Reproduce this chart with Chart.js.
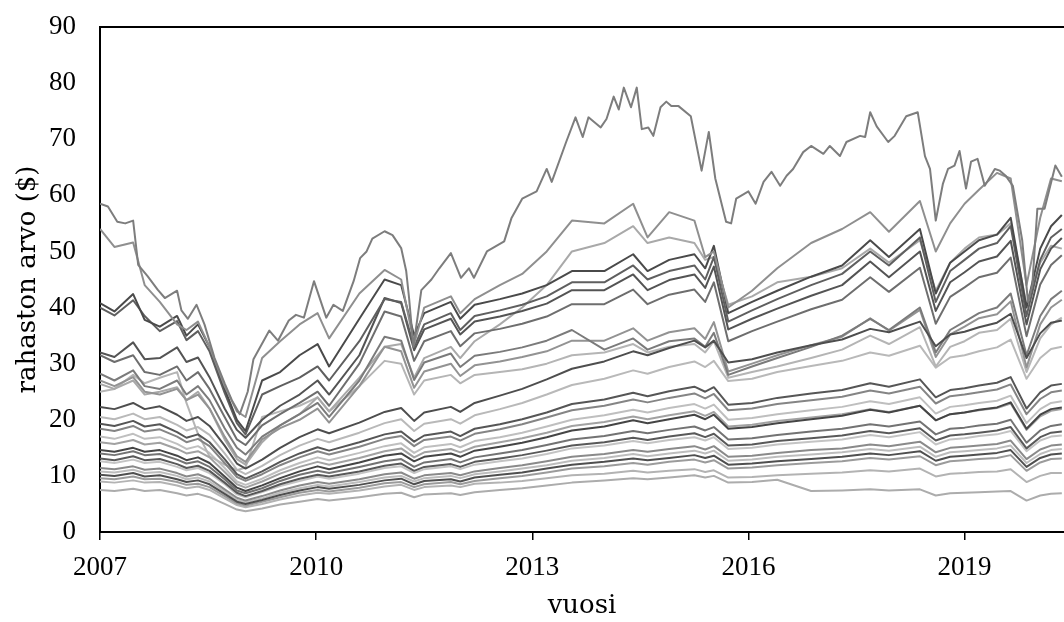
<!DOCTYPE html>
<html>
<head>
<meta charset="utf-8">
<script src="https://cdn.jsdelivr.net/npm/chart.js@4.4.1/dist/chart.umd.min.js"></script>
<style>
  html, body { margin: 0; padding: 0; background: #fff; overflow: hidden; }
  #chart { display: block; }
</style>
</head>
<body>
<canvas id="chart" width="1064" height="622"></canvas>
<script>
// axis ticks
const yearTicks = [2007, 2010, 2013, 2016, 2019];
const valueTicks = [0, 10, 20, 30, 40, 50, 60, 70, 80, 90];

// highest fund, read at its own turning points
const topDates = [2007.00, 2007.11, 2007.24, 2007.35, 2007.46, 2007.53, 2007.66, 2007.80, 2007.90, 2008.07,
    2008.13, 2008.22, 2008.34, 2008.45, 2008.59, 2008.73, 2008.83, 2008.94, 2009.05, 2009.13,
    2009.35, 2009.47, 2009.62, 2009.72, 2009.83, 2009.97, 2010.14, 2010.24, 2010.37, 2010.52,
    2010.61, 2010.70, 2010.78, 2010.95, 2011.06, 2011.18, 2011.25, 2011.29, 2011.35, 2011.46,
    2011.60, 2011.71, 2011.87, 2012.01, 2012.12, 2012.19, 2012.37, 2012.61, 2012.71, 2012.86,
    2013.06, 2013.20, 2013.27, 2013.47, 2013.60, 2013.70, 2013.78, 2013.95, 2014.03, 2014.13,
    2014.20, 2014.27, 2014.37, 2014.45, 2014.52, 2014.61, 2014.68, 2014.78, 2014.86, 2014.93,
    2015.03, 2015.20, 2015.35, 2015.45, 2015.54, 2015.69, 2015.76, 2015.83, 2016.00, 2016.10,
    2016.21, 2016.32, 2016.44, 2016.53, 2016.62, 2016.76, 2016.87, 2017.04, 2017.13, 2017.27,
    2017.36, 2017.55, 2017.62, 2017.69, 2017.78, 2017.94, 2018.03, 2018.19, 2018.35, 2018.45,
    2018.52, 2018.60, 2018.70, 2018.77, 2018.86, 2018.93, 2019.02, 2019.09, 2019.18, 2019.28,
    2019.42, 2019.49, 2019.57, 2019.67, 2019.80, 2019.88, 2019.94, 2020.01, 2020.11, 2020.26,
    2020.35];
const topFund = [58.5, 58.0, 55.3, 55.0, 55.5, 47.6, 45.6, 43.2, 41.7, 43.0,
    39.5, 38.0, 40.5, 37.0, 31.0, 26.5, 23.5, 21.0, 25.0, 30.8,
    35.9, 34.1, 37.7, 38.7, 38.2, 44.7, 38.2, 40.5, 39.4, 44.7,
    48.8, 50.0, 52.3, 53.6, 52.9, 50.6, 46.5, 41.7, 33.0, 43.1,
    45.0, 47.0, 49.7, 45.3, 47.0, 45.3, 50.0, 51.8, 55.9, 59.4,
    60.7, 64.7, 62.4, 69.5, 73.9, 70.4, 73.9, 72.1, 73.6, 77.6,
    75.3, 79.2, 75.7, 79.2, 71.8, 72.1, 70.6, 75.7, 76.7, 75.9,
    75.9, 74.1, 64.4, 71.3, 63.0, 55.3, 55.0, 59.4, 60.7, 58.5,
    62.4, 64.2, 61.7, 63.5, 64.7, 67.7, 68.8, 67.4, 68.8, 67.0,
    69.5, 70.6, 70.4, 74.8, 72.3, 69.5, 70.6, 74.1, 74.8, 67.0,
    64.7, 55.5, 62.1, 64.7, 65.3, 67.9, 61.2, 66.0, 66.5, 61.7,
    64.7, 64.4, 63.5, 61.7, 52.0, 41.0, 44.0, 57.6, 57.6, 65.3,
    63.3];

// the other funds share these dates
const dates = [2007.00, 2007.20, 2007.46, 2007.62, 2007.83, 2008.07, 2008.20, 2008.36, 2008.52, 2008.73,
    2008.90, 2009.02, 2009.25, 2009.50, 2009.77, 2010.02, 2010.18, 2010.60, 2010.95, 2011.18,
    2011.36, 2011.50, 2011.87, 2012.00, 2012.20, 2012.55, 2012.86, 2013.20, 2013.55, 2014.00,
    2014.40, 2014.60, 2014.90, 2015.25, 2015.40, 2015.52, 2015.72, 2016.05, 2016.40, 2016.87,
    2017.30, 2017.69, 2017.95, 2018.38, 2018.60, 2018.80, 2019.00, 2019.20, 2019.45, 2019.64,
    2019.86, 2020.05, 2020.20, 2020.35];

const fundB = [54.0, 50.8, 51.6, 44.0, 41.0, 37.0, 36.0, 37.5, 33.0, 26.0, 21.5, 20.5, 31.0, 34.0, 37.0, 39.0, 34.5, 42.5, 46.7, 45.0, 33.5, 40.0, 42.0, 39.0, 41.5, 44.0, 46.0, 50.0, 55.5, 55.0, 58.5, 52.5, 57.0, 55.5, 49.0, 50.0, 40.0, 43.0, 47.0, 51.5, 54.0, 57.0, 53.5, 59.0, 50.0, 55.0, 58.5, 61.0, 64.0, 63.0, 44.0, 56.0, 63.0, 62.5];
const fundC = [40.8, 39.3, 42.4, 37.8, 36.6, 38.5, 35.0, 37.0, 33.0, 25.5, 20.0, 18.0, 27.0, 28.5, 31.5, 33.5, 29.5, 38.0, 45.0, 44.0, 35.0, 39.0, 41.0, 38.0, 40.5, 41.5, 42.5, 44.0, 46.5, 46.5, 49.5, 46.5, 48.5, 49.5, 47.0, 51.0, 39.0, 41.0, 43.0, 45.5, 47.5, 52.0, 49.0, 54.0, 42.5, 48.0, 50.0, 52.0, 53.0, 56.0, 40.0, 50.5, 54.5, 56.5];
const fundD = [40.0, 38.6, 41.3, 38.5, 35.8, 37.6, 34.2, 35.8, 32.2, 24.8, 19.4, 17.4, 24.5, 26.0, 27.5, 29.5, 27.0, 34.0, 41.5, 41.0, 33.0, 37.0, 39.0, 36.0, 38.5, 39.5, 40.5, 42.0, 44.5, 44.5, 47.5, 45.0, 46.5, 47.5, 45.0, 49.0, 37.5, 39.5, 41.5, 44.0, 46.0, 50.0, 47.5, 52.5, 41.0, 46.5, 48.5, 50.5, 51.5, 54.5, 38.5, 48.5, 52.5, 54.0];
const fundE = [32.0, 31.2, 33.8, 30.8, 31.0, 32.9, 30.3, 31.1, 27.6, 22.0, 18.2, 16.8, 20.0, 22.5, 24.5, 27.0, 24.5, 31.5, 41.7, 40.8, 32.4, 36.1, 38.0, 35.2, 37.5, 38.4, 39.4, 40.7, 43.1, 43.1, 45.9, 43.1, 44.9, 45.9, 43.5, 47.3, 36.1, 38.0, 39.8, 42.1, 44.0, 48.2, 45.4, 50.0, 39.4, 44.5, 46.3, 48.2, 49.1, 51.9, 37.0, 46.8, 50.5, 52.4];
const fundF = [31.5, 30.3, 31.5, 28.5, 28.0, 29.5, 27.0, 28.5, 25.5, 20.5, 16.5, 15.5, 19.0, 21.0, 23.0, 25.0, 22.5, 30.0, 39.3, 38.4, 30.5, 34.0, 35.8, 33.1, 35.4, 36.2, 37.1, 38.4, 40.6, 40.6, 43.2, 40.6, 42.3, 43.2, 41.0, 44.5, 34.0, 35.8, 37.5, 39.7, 41.4, 45.4, 42.8, 47.1, 37.1, 41.9, 43.6, 45.4, 46.2, 48.9, 34.9, 44.1, 47.6, 49.3];
const fundG = [28.2, 27.0, 28.8, 26.0, 25.5, 27.0, 24.5, 26.0, 23.5, 18.5, 15.0, 13.8, 17.0, 19.0, 21.0, 23.0, 20.5, 27.0, 34.8, 34.1, 27.1, 30.2, 31.8, 29.4, 31.4, 32.1, 32.9, 34.1, 36.0, 32.5, 34.5, 32.5, 34.0, 34.5, 33.0, 35.5, 28.0, 29.5, 31.0, 33.0, 35.0, 38.0, 36.0, 40.0, 32.0, 36.0, 37.5, 39.0, 40.0, 42.5, 31.5, 38.5, 41.5, 43.0];
const fundH = [26.4, 25.5, 27.0, 24.5, 25.0, 25.8, 23.5, 25.0, 22.0, 16.5, 13.0, 12.0, 16.0, 19.0, 21.0, 24.0, 21.5, 27.5, 33.0, 33.5, 27.5, 31.0, 33.0, 31.0, 34.0, 37.0, 40.0, 44.0, 50.0, 51.5, 54.5, 51.5, 52.5, 51.5, 48.5, 49.0, 40.5, 42.0, 44.5, 45.5, 47.0, 50.5, 48.0, 52.0, 43.0, 48.0, 50.5, 52.5, 53.0, 55.0, 40.5, 48.0, 51.0, 50.5];
const fundI = [27.0, 26.0, 27.6, 25.0, 24.5, 25.5, 23.5, 24.5, 22.0, 17.0, 13.5, 12.5, 16.5, 18.5, 20.0, 22.0, 19.5, 26.0, 33.0, 32.2, 25.7, 28.6, 30.0, 27.8, 29.7, 30.4, 31.2, 32.2, 34.1, 34.1, 36.3, 34.1, 35.6, 36.3, 34.4, 37.4, 28.6, 30.0, 31.5, 33.3, 34.8, 38.1, 35.9, 39.6, 31.2, 35.2, 36.6, 38.1, 38.8, 41.1, 29.3, 37.0, 40.0, 41.4];
const fundJ = [25.0, 25.5, 28.0, 26.5, 27.5, 28.5, 23.0, 17.5, 13.5, 12.0, 11.0, 11.5, 20.5, 21.5, 22.5, 24.0, 21.5, 26.0, 30.5, 30.0, 24.5, 27.0, 28.0, 26.5, 28.0, 28.5, 29.0, 30.0, 31.5, 32.0, 33.5, 32.0, 33.0, 33.5, 32.0, 34.0, 27.5, 28.5, 29.5, 31.0, 32.5, 35.0, 33.5, 36.5, 29.5, 33.0, 34.0, 35.5, 36.0, 38.0, 28.5, 34.5, 37.0, 38.2];
const fundK = [22.3, 21.9, 23.0, 21.9, 22.4, 20.9, 19.8, 20.5, 18.9, 15.4, 12.2, 11.3, 12.9, 15.0, 16.9, 18.3, 17.6, 19.5, 21.4, 22.1, 19.8, 21.3, 22.3, 21.4, 23.0, 24.3, 25.5, 27.2, 29.1, 30.4, 32.2, 31.5, 32.8, 34.1, 32.9, 34.1, 30.2, 30.8, 32.0, 33.3, 34.3, 36.2, 35.6, 37.5, 33.1, 35.2, 35.7, 36.5, 37.3, 38.9, 31.0, 35.4, 37.3, 37.7];
const fundL = [20.5, 20.1, 21.1, 20.1, 20.5, 19.1, 18.1, 18.7, 17.3, 14.0, 11.1, 10.3, 11.8, 13.7, 15.4, 16.6, 16.0, 17.7, 19.4, 20.1, 18.0, 19.3, 20.1, 19.3, 20.8, 21.9, 23.0, 24.5, 26.2, 27.3, 28.8, 28.2, 29.4, 30.4, 29.4, 30.5, 26.9, 27.3, 28.5, 29.6, 30.5, 32.0, 31.4, 33.2, 29.3, 31.1, 31.5, 32.2, 32.9, 34.3, 27.3, 31.0, 32.6, 33.0];
const fundM = [19.3, 18.9, 19.8, 18.8, 19.2, 17.8, 16.8, 17.4, 16.0, 13.0, 10.3, 9.5, 10.8, 12.5, 14.0, 15.1, 14.5, 16.0, 17.4, 17.9, 16.1, 17.2, 17.9, 17.1, 18.4, 19.2, 20.1, 21.3, 22.8, 23.6, 24.8, 24.2, 25.1, 25.9, 25.0, 25.8, 22.7, 23.0, 23.9, 24.7, 25.3, 26.5, 25.9, 27.2, 24.0, 25.3, 25.6, 26.1, 26.6, 27.6, 22.0, 24.9, 26.1, 26.4];
const fundN = [18.4, 18.0, 18.9, 17.9, 18.3, 17.0, 16.0, 16.6, 15.3, 12.3, 9.8, 9.1, 10.3, 11.9, 13.3, 14.4, 13.8, 15.2, 16.6, 17.1, 15.3, 16.4, 17.0, 16.3, 17.5, 18.3, 19.2, 20.4, 21.7, 22.5, 23.6, 23.1, 23.9, 24.7, 23.8, 24.6, 21.7, 22.0, 22.8, 23.5, 24.1, 25.2, 24.7, 25.9, 22.9, 24.2, 24.5, 24.9, 25.4, 26.3, 21.0, 23.7, 24.9, 25.2];
const fundO = [17.0, 16.6, 17.5, 16.6, 16.9, 15.7, 14.8, 15.3, 14.1, 11.4, 9.0, 8.4, 9.5, 11.0, 12.3, 13.3, 12.8, 14.1, 15.3, 15.8, 14.1, 15.1, 15.7, 15.1, 16.2, 16.9, 17.7, 18.8, 20.0, 20.8, 21.8, 21.3, 22.1, 22.8, 22.0, 22.7, 20.0, 20.3, 21.0, 21.7, 22.3, 23.3, 22.8, 24.0, 21.1, 22.3, 22.6, 23.0, 23.4, 24.3, 19.4, 21.9, 23.0, 23.3];
const fundP = [16.0, 15.7, 16.4, 15.6, 15.9, 14.8, 14.0, 14.4, 13.3, 10.7, 8.5, 7.9, 9.0, 10.4, 11.6, 12.5, 12.0, 13.2, 14.4, 14.9, 13.3, 14.2, 14.8, 14.2, 15.2, 16.0, 16.7, 17.7, 18.9, 19.6, 20.6, 20.1, 20.8, 21.5, 20.7, 21.4, 18.8, 19.1, 19.8, 20.4, 21.0, 21.9, 21.4, 22.5, 19.9, 21.0, 21.3, 21.7, 22.1, 22.9, 18.2, 20.6, 21.6, 21.9];
const fundQ = [14.6, 14.3, 15.0, 14.3, 14.6, 13.6, 12.8, 13.3, 12.3, 9.9, 7.9, 7.3, 8.3, 9.6, 10.8, 11.7, 11.2, 12.4, 13.6, 14.0, 12.6, 13.4, 14.0, 13.4, 14.5, 15.2, 15.9, 16.9, 18.1, 18.8, 19.9, 19.4, 20.1, 20.9, 20.1, 20.9, 18.4, 18.7, 19.4, 20.1, 20.7, 21.8, 21.3, 22.5, 19.9, 21.0, 21.3, 21.8, 22.2, 23.1, 18.4, 20.9, 21.9, 22.2];
const fundR = [14.0, 13.7, 14.4, 13.7, 13.9, 12.9, 12.2, 12.6, 11.6, 9.4, 7.4, 6.9, 7.8, 9.1, 10.2, 10.9, 10.5, 11.6, 12.6, 13.0, 11.6, 12.4, 13.0, 12.4, 13.3, 14.0, 14.6, 15.5, 16.5, 17.1, 18.0, 17.6, 18.2, 18.8, 18.1, 18.7, 16.5, 16.7, 17.3, 17.9, 18.4, 19.2, 18.8, 19.7, 17.4, 18.4, 18.6, 19.0, 19.3, 20.0, 15.9, 18.1, 18.9, 19.2];
const fundS = [13.1, 12.8, 13.5, 12.8, 13.0, 12.1, 11.4, 11.8, 10.9, 8.8, 7.0, 6.4, 7.3, 8.5, 9.5, 10.2, 9.9, 10.8, 11.8, 12.2, 10.9, 11.6, 12.1, 11.6, 12.5, 13.1, 13.7, 14.5, 15.4, 16.0, 16.8, 16.4, 17.0, 17.6, 16.9, 17.5, 15.4, 15.6, 16.2, 16.7, 17.2, 18.0, 17.6, 18.5, 16.3, 17.2, 17.4, 17.7, 18.1, 18.7, 14.9, 16.9, 17.7, 17.9];
const fundT = [12.6, 12.3, 12.9, 12.3, 12.5, 11.6, 11.0, 11.4, 10.5, 8.5, 6.7, 6.2, 7.1, 8.2, 9.1, 9.9, 9.5, 10.4, 11.4, 11.7, 10.5, 11.2, 11.7, 11.2, 12.0, 12.6, 13.1, 13.9, 14.9, 15.4, 16.2, 15.8, 16.4, 16.9, 16.3, 16.9, 14.8, 15.0, 15.6, 16.1, 16.5, 17.3, 16.9, 17.8, 15.6, 16.5, 16.7, 17.1, 17.4, 18.0, 14.4, 16.3, 17.0, 17.2];
const fundU = [11.4, 11.2, 11.7, 11.1, 11.3, 10.5, 9.9, 10.3, 9.5, 7.6, 6.1, 5.6, 6.4, 7.4, 8.3, 8.9, 8.6, 9.4, 10.3, 10.6, 9.5, 10.1, 10.5, 10.1, 10.8, 11.4, 11.9, 12.6, 13.4, 13.9, 14.6, 14.3, 14.8, 15.3, 14.7, 15.3, 13.4, 13.6, 14.1, 14.6, 14.9, 15.6, 15.3, 16.1, 14.2, 15.0, 15.2, 15.4, 15.7, 16.3, 13.0, 14.7, 15.4, 15.6];
const fundV = [10.8, 10.6, 11.1, 10.5, 10.7, 10.0, 9.4, 9.7, 9.0, 7.2, 5.7, 5.3, 6.0, 7.0, 7.8, 8.4, 8.1, 8.9, 9.7, 10.0, 9.0, 9.6, 10.0, 9.6, 10.3, 10.8, 11.3, 11.9, 12.7, 13.2, 13.9, 13.5, 14.0, 14.5, 14.0, 14.5, 12.7, 12.9, 13.4, 13.8, 14.2, 14.8, 14.5, 15.2, 13.4, 14.2, 14.4, 14.6, 14.9, 15.4, 12.3, 13.9, 14.6, 14.8];
const fundW = [10.2, 10.0, 10.5, 9.9, 10.1, 9.4, 8.9, 9.2, 8.5, 6.8, 5.4, 5.0, 5.7, 6.6, 7.4, 8.0, 7.7, 8.4, 9.2, 9.5, 8.5, 9.1, 9.4, 9.0, 9.7, 10.2, 10.6, 11.3, 12.0, 12.5, 13.1, 12.8, 13.2, 13.7, 13.2, 13.6, 12.0, 12.2, 12.6, 13.0, 13.4, 14.0, 13.7, 14.4, 12.7, 13.4, 13.6, 13.8, 14.1, 14.6, 11.6, 13.2, 13.8, 14.0];
const fundX = [9.6, 9.4, 9.9, 9.4, 9.5, 8.9, 8.4, 8.6, 8.0, 6.4, 5.1, 4.7, 5.4, 6.2, 7.0, 7.5, 7.2, 7.9, 8.7, 8.9, 8.0, 8.5, 8.9, 8.5, 9.1, 9.6, 10.0, 10.6, 11.3, 11.7, 12.3, 12.0, 12.5, 12.9, 12.4, 12.8, 11.3, 11.5, 11.9, 12.3, 12.6, 13.2, 12.9, 13.5, 11.9, 12.6, 12.8, 13.0, 13.2, 13.7, 10.9, 12.4, 13.0, 13.1];
const fundY = [9.0, 8.8, 9.2, 8.8, 8.9, 8.3, 7.8, 8.1, 7.5, 6.0, 4.8, 4.4, 5.0, 5.8, 6.5, 7.0, 6.8, 7.4, 8.1, 8.4, 7.5, 8.0, 8.3, 8.0, 8.6, 8.8, 9.1, 9.6, 10.1, 10.4, 10.9, 10.6, 10.9, 11.2, 10.7, 11.0, 9.7, 9.8, 10.1, 10.4, 10.6, 11.0, 10.8, 11.3, 9.9, 10.4, 10.5, 10.7, 10.8, 11.2, 8.9, 10.0, 10.5, 10.5];
const fundZ = [7.5, 7.3, 7.7, 7.3, 7.5, 6.9, 6.5, 6.8, 6.2, 5.0, 4.0, 3.7, 4.2, 4.9, 5.4, 5.9, 5.6, 6.2, 6.8, 7.0, 6.2, 6.7, 6.9, 6.6, 7.1, 7.5, 7.8, 8.3, 8.8, 9.2, 9.6, 9.4, 9.7, 10.1, 9.7, 10.0, 8.8, 8.9, 9.3, 7.3, 7.4, 7.6, 7.4, 7.6, 6.5, 6.9, 7.0, 7.1, 7.2, 7.3, 5.6, 6.5, 6.8, 6.9];

// first in the list is drawn on top
const funds = [
    [fundB, '#8f8f8f'], [fundC, '#4a4a4a'], [fundD, '#5f5f5f'], [fundE, '#545454'],
    [fundK, '#4e4e4e'], [fundQ, '#454545'], [fundS, '#595959'], [fundW, '#4f4f4f'],
    [fundM, '#565656'], [fundF, '#6e6e6e'], [fundG, '#7b7b7b'], [fundR, '#737373'],
    [fundN, '#858585'], [fundU, '#8a8a8a'], [fundI, '#939393'], [fundX, '#9b9b9b'],
    [fundP, '#a2a2a2'], [fundH, '#a9a9a9'], [fundZ, '#acacac'], [fundY, '#b3b3b3'],
    [fundJ, '#b5b5b5'], [fundL, '#b9b9b9'], [fundV, '#bdbdbd'], [fundO, '#bfbfbf'],
    [fundT, '#c4c4c4']
];

function toPoints(xs, ys) {
    return xs.map((x, i) => ({ x: x, y: ys[i] }));
}

const datasets = [{ data: toPoints(topDates, topFund), borderColor: '#7d7d7d' }]
    .concat(funds.map(([values, color]) => ({ data: toPoints(dates, values), borderColor: color })));

const tickFont = { family: 'Liberation Serif', size: 27 };
const titleFont = { family: 'DejaVu Serif', size: 26 };

new Chart(document.getElementById('chart').getContext('2d'), {
    type: 'line',
    data: { datasets: datasets },
    options: {
        responsive: false,
        animation: false,
        devicePixelRatio: 1,
        layout: { padding: { top: 27, right: 0, bottom: 0, left: 0 } },
        elements: {
            point: { radius: 0 },
            line: { borderWidth: 2, tension: 0, borderJoinStyle: 'round', fill: false }
        },
        plugins: { legend: { display: false }, tooltip: { enabled: false } },
        scales: {
            x: {
                type: 'linear',
                min: 2007,
                max: 2020.38,
                afterBuildTicks: scale => { scale.ticks = yearTicks.map(v => ({ value: v })); },
                afterFit: scale => { scale.height = 90; },
                ticks: { font: tickFont, color: '#000', padding: 12, maxRotation: 0, autoSkip: false, callback: v => String(v) },
                grid: { drawOnChartArea: false, drawTicks: true, tickLength: 8, color: '#000', lineWidth: 1.5 },
                border: { display: true, color: '#000', width: 2 },
                title: { display: true, text: 'vuosi', font: titleFont, color: '#000', padding: { top: 0, bottom: 0 } }
            },
            y: {
                min: 0,
                max: 90,
                afterBuildTicks: scale => { scale.ticks = valueTicks.map(v => ({ value: v })); },
                afterFit: scale => { scale.width = 100; },
                // tick marks are invisible; their length sets the gap before the labels
                ticks: { font: tickFont, color: '#000', padding: 0 },
                grid: {
                    drawTicks: true,
                    tickLength: 24,
                    tickColor: 'rgba(0,0,0,0)',
                    lineWidth: 2,
                    color: c => (c.tick && c.tick.value === 90 ? '#000' : 'rgba(0,0,0,0)')
                },
                border: { display: true, color: '#000', width: 2 },
                title: { display: true, text: 'rahaston arvo ($)', font: titleFont, color: '#000', padding: { top: 13, bottom: 0 } }
            }
        }
    }
});
</script>
</body>
</html>
